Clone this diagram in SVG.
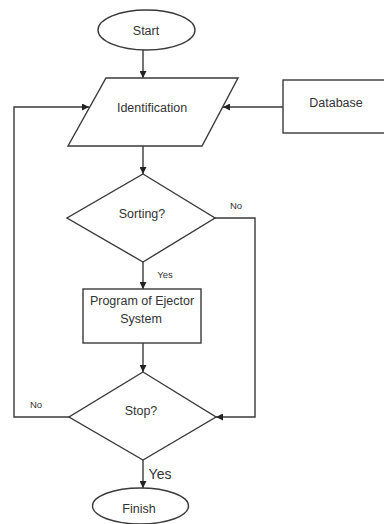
<svg xmlns="http://www.w3.org/2000/svg" width="384" height="524" viewBox="0 0 384 524">
<defs>
<style>
.s{fill:#fff;stroke:#3a3a3a;stroke-width:1.4}
.c{fill:none;stroke:#3a3a3a;stroke-width:1.4}
text{font-family:"Liberation Sans",Arial,sans-serif;fill:#333;text-anchor:middle}
.m{font-size:12.5px}
.l{font-size:9.5px}
</style>
<marker id="ah" viewBox="0 0 10 10" refX="10" refY="5" markerWidth="7" markerHeight="7" markerUnits="userSpaceOnUse" orient="auto">
<path d="M0,0 L10,5 L0,10 z" fill="#222"/>
</marker>
</defs>
<rect width="384" height="524" fill="#fff"/>
<g id="connectors">
<line class="c" x1="143" y1="50" x2="143" y2="78" marker-end="url(#ah)"/>
<line class="c" x1="283" y1="107" x2="223" y2="107" marker-end="url(#ah)"/>
<line class="c" x1="143" y1="146" x2="143" y2="174" marker-end="url(#ah)"/>
<line class="c" x1="143" y1="262" x2="143" y2="289" marker-end="url(#ah)"/>
<line class="c" x1="143" y1="343" x2="143" y2="372" marker-end="url(#ah)"/>
<polyline class="c" points="215,218 255,218 255,417 216,417" marker-end="url(#ah)"/>
<polyline class="c" points="69,417 14,417 14,107 89,107" marker-end="url(#ah)"/>
<line class="c" x1="143" y1="460" x2="143" y2="488" marker-end="url(#ah)"/>
<text class="l" x="236" y="209">No</text>
<text class="l" x="165" y="277.5">Yes</text>
<text class="l" x="36" y="407.5">No</text>
<text x="160" y="479" style="font-size:14px">Yes</text>
</g>
<g id="start">
<ellipse class="s" cx="146.5" cy="30" rx="48.5" ry="20"/>
<text class="m" x="146" y="34.5">Start</text>
</g>
<g id="identification">
<polygon class="s" points="106,78 238,78 202,146 68,146"/>
<text class="m" x="152" y="111.5">Identification</text>
</g>
<g id="database">
<rect class="s" x="283" y="80" width="105" height="53"/>
<text class="m" x="336" y="106.5">Database</text>
</g>
<g id="sorting">
<polygon class="s" points="143,174 215,218 143,262 67,218"/>
<text class="m" x="142" y="217.5">Sorting?</text>
</g>
<g id="program">
<rect class="s" x="83" y="289" width="118" height="54"/>
<text class="m" x="142" y="305">Program of Ejector</text>
<text class="m" x="141" y="323">System</text>
</g>
<g id="stop">
<polygon class="s" points="143,372 216,417 143,460 69,417"/>
<text class="m" x="141" y="414.5">Stop?</text>
</g>
<g id="finish">
<ellipse class="s" cx="140.5" cy="506" rx="48" ry="18"/>
<text class="m" x="139" y="513">Finish</text>
</g>
</svg>
